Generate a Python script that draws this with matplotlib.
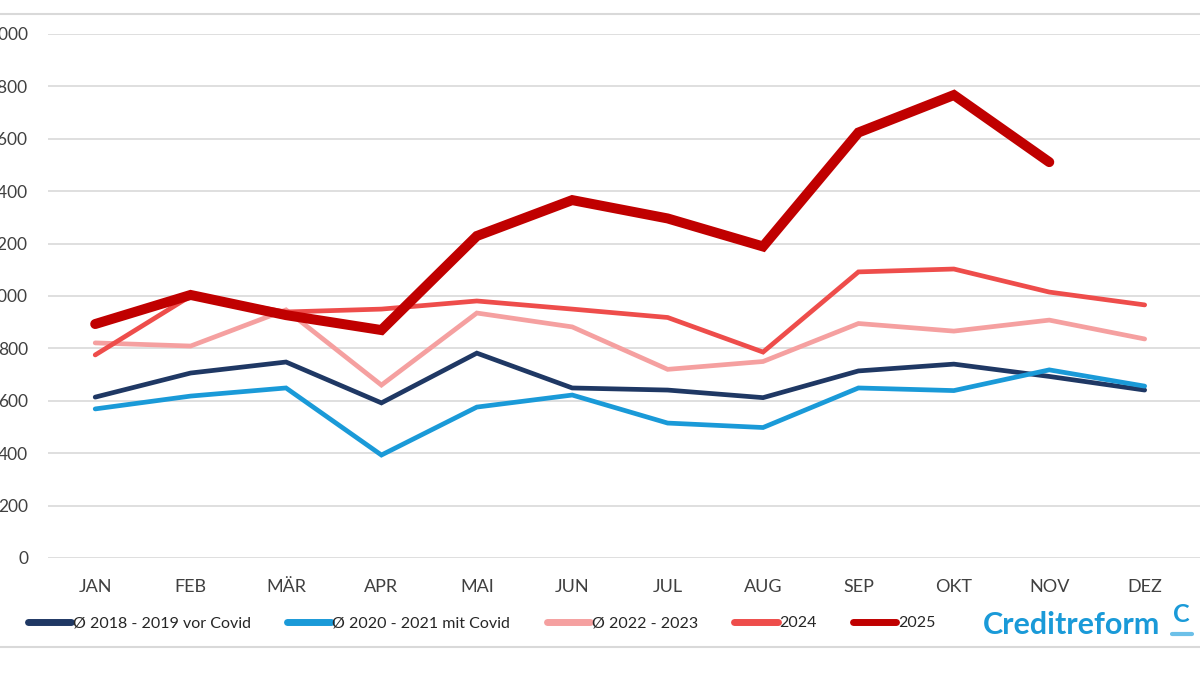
import matplotlib.pyplot as plt
from matplotlib.lines import Line2D

plt.rcParams['font.family'] = ['Lato', 'DejaVu Sans']

months = ['JAN', 'FEB', 'MÄR', 'APR', 'MAI', 'JUN', 'JUL', 'AUG', 'SEP', 'OKT', 'NOV', 'DEZ']

avg_2018_2019 = [614, 706, 748, 592, 782, 649, 641, 612, 714, 740, 693, 641]
avg_2020_2021 = [569, 618, 649, 393, 576, 622, 515, 498, 649, 639, 718, 656]
avg_2022_2023 = [821, 809, 947, 660, 935, 882, 720, 750, 895, 866, 908, 836]
vals_2024 = [775, 1000, 939, 950, 981, 950, 918, 786, 1092, 1103, 1015, 966]
vals_2025 = [893, 1004, 927, 870, 1229, 1366, 1296, 1189, 1624, 1767, 1511]

series = [
    ('Ø 2018 - 2019 vor Covid', avg_2018_2019, '#1F3864', 3.4),
    ('Ø 2020 - 2021 mit Covid', avg_2020_2021, '#1A9AD8', 3.4),
    ('Ø 2022 - 2023', avg_2022_2023, '#F5A0A0', 3.4),
    ('2024', vals_2024, '#EE4D4B', 3.4),
    ('2025', vals_2025, '#C00000', 7.2),
]

fig = plt.figure(figsize=(12, 6.76), dpi=100)
ax = fig.add_axes([47.5 / 1200, 1 - 558 / 676, 1 - 47.5 / 1200, (558 - 34) / 676])

x = list(range(len(months)))
for label, vals, color, lw in series:
    ax.plot(x[:len(vals)], vals, color=color, lw=lw, label=label,
            solid_capstyle='round', solid_joinstyle='miter')

ax.set_ylim(0, 2000)
ax.set_xlim(-0.5, 11.58)
ax.set_yticks(range(0, 2001, 200))
ax.set_xticks(x)
ax.set_xticklabels(months)
ax.grid(axis='y', color='#D9D9D9', lw=1.2)
ax.set_axisbelow(True)
for s in ax.spines.values():
    s.set_visible(False)
ax.tick_params(axis='x', length=0, labelsize=13, colors='#404040', pad=15)
ax.tick_params(axis='y', length=0, labelsize=12.5, colors='#404040', pad=14)

leg = fig.legend(loc='center left', bbox_to_anchor=(28 / 1200, 1 - 623 / 676), ncol=5,
                 frameon=False, fontsize=11.5, handlelength=2.7, handletextpad=0.1,
                 columnspacing=2.3, borderpad=0, borderaxespad=0)
for h in leg.get_lines():
    h.set_linewidth(5)
    h.set_solid_capstyle('round')
for t in leg.get_texts():
    t.set_color('#262626')

# logo
fig.text(983 / 1200, 1 - 625 / 676, 'Creditreform', fontsize=22, fontweight='bold',
         color='#1A9AD8', va='center', ha='left')
fig.text(1181 / 1200, 1 - 614 / 676, 'C', fontsize=18, fontweight='bold',
         color='#1A9AD8', va='center', ha='center')
fig.add_artist(Line2D([1172 / 1200, 1192 / 1200], [1 - 634 / 676] * 2,
                      color='#6CC0E8', lw=3, solid_capstyle='round'))

# border lines of the image
fig.add_artist(Line2D([0, 1], [1 - 14 / 676] * 2, color='#D9D9D9', lw=1.5))
fig.add_artist(Line2D([0, 1], [1 - 647 / 676] * 2, color='#D9D9D9', lw=1.5))

fig.savefig('out.png', dpi=100)
